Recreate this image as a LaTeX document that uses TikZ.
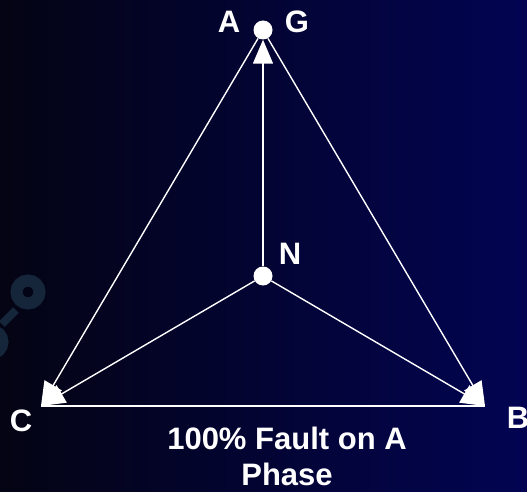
\documentclass[tikz,border=0pt]{standalone}
\usepackage{fontspec}
\setmainfont{Liberation Sans}
\usetikzlibrary{arrows.meta}

\definecolor{bgleft}{RGB}{4,4,20}
\definecolor{bgright}{RGB}{2,4,82}
\definecolor{ringcol}{RGB}{22,38,58}

\tikzset{
	phasor/.style={draw=white, line width=1.4pt, -{Triangle[length=24pt, width=20pt]}},
	dot/.style={circle, fill=white, inner sep=0pt, minimum size=19pt},
	lbl/.style={text=white, font=\fontsize{31}{36}\selectfont\bfseries, inner sep=0pt}
}

\begin{document}
\begin{tikzpicture}[x=1pt, y=-1pt]
	\useasboundingbox (0,0) rectangle (527,492);
	\shade[left color=bgleft, right color=bgright] (0,0) rectangle (527,492);
	% faint rings at the left edge
	\draw[ringcol, line width=12pt] (28,292) circle (11.5);
	\draw[ringcol, line width=8pt] (16,310) -- (2,324);
	\draw[ringcol, line width=12pt] (-9,342) circle (11.5);
	% points
	\node[dot] (A) at (263,30) {};
	\node[dot] (N) at (263,276) {};
	\coordinate (C) at (41,406);
	\coordinate (B) at (485,406);
	% base line
	\draw[white, line width=2.2pt] (C) -- (B);
	% phasors
	\draw[phasor] (N) -- (A.south);
	\draw[phasor] (N) -- (C);
	\draw[phasor] (N) -- (B);
	\draw[phasor] (A) -- (C);
	\draw[phasor] (A) -- (B);
	% labels
	\node[lbl] (labA) at (229,22) {A};
	\node[lbl] (labG) at (297,22) {G};
	\node[lbl] (labN) at (290,254) {N};
	\node[lbl] (labC) at (21,421) {C};
	\node[lbl] (labB) at (518,418) {B};
	\node[lbl, align=center] (title) at (287,456) {100\% Fault on A\\Phase};
\end{tikzpicture}
\end{document}
